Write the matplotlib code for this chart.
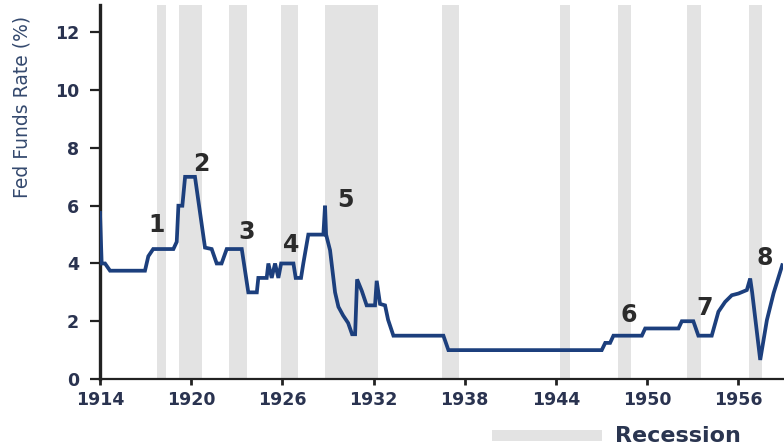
import matplotlib
matplotlib.use("Agg")
import matplotlib.pyplot as plt
from matplotlib.patches import Rectangle

# ---- data ----
years = [1914.0, 1914.11, 1914.33, 1914.66, 1916.96, 1917.18, 1917.5, 1918.83,
         1919.05, 1919.16, 1919.42, 1919.6, 1920.25, 1920.91, 1921.35, 1921.68,
         1922.0, 1922.34, 1923.33, 1923.76, 1924.32, 1924.42, 1924.97, 1925.08,
         1925.3, 1925.52, 1925.74, 1925.92, 1926.73, 1926.88, 1927.23, 1927.38,
         1927.71, 1928.7, 1928.81, 1928.88, 1929.14, 1929.47, 1929.69, 1930.0,
         1930.33, 1930.59, 1930.79, 1930.92, 1931.23, 1931.55, 1932.1, 1932.21,
         1932.43, 1932.76, 1932.96, 1933.31, 1936.6, 1936.93, 1947.02, 1947.25,
         1947.57, 1947.79, 1949.66, 1949.88, 1952.07, 1952.29, 1953.05, 1953.38,
         1954.26, 1954.7, 1955.14, 1955.58, 1956.02, 1956.57, 1956.79, 1956.92,
         1957.45, 1957.89, 1958.33, 1958.9]
rates = [5.75, 4.0, 4.0, 3.75, 3.75, 4.25, 4.5, 4.5,
         4.75, 6.0, 6.0, 7.0, 7.0, 4.55, 4.5, 4.0,
         4.0, 4.5, 4.5, 3.0, 3.0, 3.5, 3.5, 4.0,
         3.5, 4.0, 3.5, 4.0, 4.0, 3.5, 3.5, 4.0,
         5.0, 5.0, 6.0, 5.0, 4.46, 3.0, 2.5, 2.2,
         1.94, 1.55, 1.55, 3.45, 3.05, 2.55, 2.55, 3.4,
         2.6, 2.55, 2.05, 1.5, 1.5, 1.0, 1.0, 1.25,
         1.25, 1.5, 1.5, 1.75, 1.75, 2.0, 2.0, 1.5,
         1.5, 2.33, 2.67, 2.9, 2.96, 3.08, 3.48, 3.0,
         0.66, 2.04, 2.97, 3.94]

rec_start = [1917.73, 1919.2, 1922.47, 1925.92, 1928.81, 1936.5, 1944.28, 1948.08, 1952.62, 1956.68]
rec_end = [1918.32, 1920.73, 1923.65, 1927.06, 1932.32, 1937.6, 1944.94, 1948.93, 1953.54, 1957.56]

label_texts = ["1", "2", "3", "4", "5", "6", "7", "8"]
label_x = [1917.73, 1920.69, 1923.65, 1926.6, 1930.12, 1948.82, 1953.8, 1957.75]
label_y = [5.33, 7.46, 5.1, 4.64, 6.19, 2.21, 2.45, 4.18]

xticks = [1914, 1920, 1926, 1932, 1938, 1944, 1950, 1956]
yticks = [0, 2, 4, 6, 8, 10, 12]

# ---- figure ----
plt.rcParams['font.family'] = ['DejaVu Sans']
fig = plt.figure(figsize=(7.84, 4.46), dpi=100)
ax = fig.add_axes([100 / 784, 67 / 446, 683 / 784, 374 / 446])

rec_color = '#e3e3e3'
for s, e in zip(rec_start, rec_end):
    ax.axvspan(s, e, color=rec_color, lw=0, zorder=0)

ax.plot(years, rates, color='#1c3f7d', lw=2.7, solid_joinstyle='miter', zorder=3)

for t, lx, ly in zip(label_texts, label_x, label_y):
    ax.text(lx, ly, t, ha='center', va='center', fontsize=17, fontweight='bold',
            color='#2b2b2b', zorder=4)

ax.set_xlim(1914, 1958.95)
ax.set_ylim(0, 12.95)
ax.set_xticks(xticks)
ax.set_yticks(yticks)
ax.set_xticklabels([str(v) for v in xticks])
ax.set_yticklabels([str(v) for v in yticks])

for side in ['top', 'right']:
    ax.spines[side].set_visible(False)
ax.spines['left'].set_linewidth(2.4)
ax.spines['bottom'].set_linewidth(1.6)
ax.spines['left'].set_color('#222222')
ax.spines['bottom'].set_color('#222222')

ax.tick_params(axis='x', direction='out', length=4.5, width=2, colors='#222222',
               labelsize=12.5, pad=4, labelcolor='#2a3350')
ax.tick_params(axis='y', direction='out', length=7, width=1.6, colors='#222222',
               labelsize=12.5, pad=8, labelcolor='#2a3350')
for lab in ax.get_xticklabels() + ax.get_yticklabels():
    lab.set_fontweight('bold')

ax.set_ylabel('Fed Funds Rate (%)', fontsize=13.5, color='#34496e')
ax.yaxis.set_label_coords(-0.100, 0.727)

# legend (recession box)
fig.patches.append(Rectangle((492 / 784, 5 / 446), 110 / 784, 11 / 446,
                             transform=fig.transFigure, color=rec_color, lw=0))
fig.text(615 / 784, 10.5 / 446, 'Recession', ha='left', va='center', fontsize=16,
         fontweight='bold', color='#2a3550')

fig.savefig('out.png', dpi=100)
